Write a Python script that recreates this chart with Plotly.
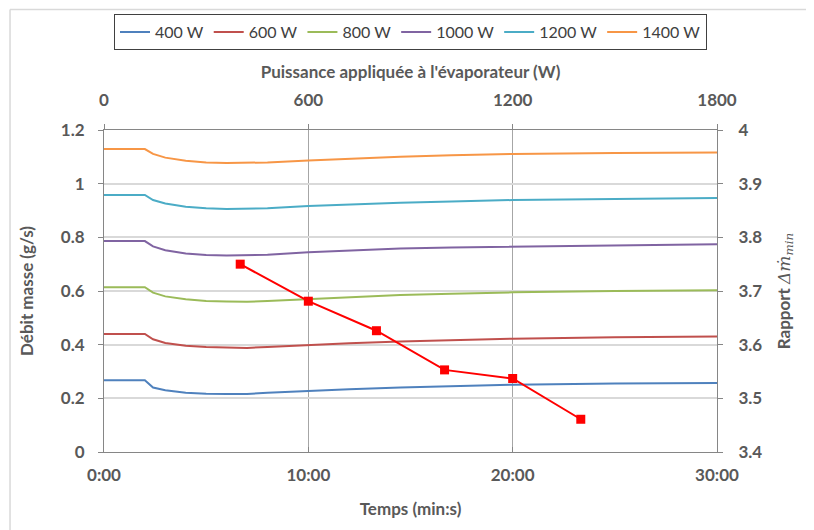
import plotly.graph_objects as go

# ---- data ----
time_min = [0, 2.0, 2.4, 3, 4, 5, 6, 7, 8, 10, 12, 14.5, 17, 20, 25, 30]
series_names = ["400 W", "600 W", "800 W", "1000 W", "1200 W", "1400 W"]
flow_400 = [0.267, 0.267, 0.240, 0.230, 0.221, 0.217, 0.216, 0.216, 0.221, 0.228, 0.234, 0.240, 0.245, 0.251, 0.255, 0.257]
flow_600 = [0.440, 0.440, 0.420, 0.406, 0.396, 0.391, 0.389, 0.388, 0.391, 0.399, 0.405, 0.412, 0.417, 0.422, 0.428, 0.430]
flow_800 = [0.614, 0.614, 0.594, 0.580, 0.569, 0.563, 0.561, 0.560, 0.563, 0.570, 0.577, 0.585, 0.590, 0.595, 0.600, 0.603]
flow_1000 = [0.786, 0.786, 0.766, 0.752, 0.740, 0.734, 0.732, 0.733, 0.735, 0.744, 0.751, 0.758, 0.762, 0.765, 0.770, 0.774]
flow_1200 = [0.958, 0.958, 0.939, 0.926, 0.914, 0.908, 0.906, 0.906, 0.908, 0.917, 0.923, 0.929, 0.934, 0.939, 0.943, 0.947]
flow_1400 = [1.129, 1.129, 1.111, 1.097, 1.085, 1.079, 1.077, 1.077, 1.079, 1.086, 1.093, 1.100, 1.106, 1.111, 1.114, 1.116]
flows = [flow_400, flow_600, flow_800, flow_1000, flow_1200, flow_1400]

power_W = [400, 600, 800, 1000, 1200, 1400]
ratio = [3.750, 3.681, 3.626, 3.553, 3.537, 3.461]

time_ticks = [0, 10, 20, 30]
time_ticklabels = ["0:00", "10:00", "20:00", "30:00"]
flow_ticks = [0, 0.2, 0.4, 0.6, 0.8, 1.0, 1.2]
flow_ticklabels = ["0", "0.2", "0.4", "0.6", "0.8", "1", "1.2"]
power_ticks = [0, 600, 1200, 1800]
ratio_ticks = [3.4, 3.5, 3.6, 3.7, 3.8, 3.9, 4.0]
ratio_ticklabels = ["3.4", "3.5", "3.6", "3.7", "3.8", "3.9", "4"]

colors = ["#4F81BD", "#C0504D", "#9BBB59", "#8064A2", "#4BACC6", "#F79646"]

FONT = "Lato"
TXT = "#595959"
AXC = "#868686"

fig = go.Figure()
for name, ys, c in zip(series_names, flows, colors):
    fig.add_trace(go.Scatter(x=time_min, y=ys, mode="lines", name=name,
                             line=dict(color=c, width=2), xaxis="x", yaxis="y"))

fig.add_trace(go.Scatter(x=power_W, y=ratio, mode="lines+markers", showlegend=False,
                         line=dict(color="#FF0000", width=2),
                         marker=dict(symbol="square", size=9, color="#FF0000"),
                         xaxis="x2", yaxis="y2"))

tickfont = dict(family=FONT, size=17, color=TXT, weight="bold")
titlefont = dict(family=FONT, size=17, color=TXT, weight="bold")

# the page body adds an 8 px offset, so the figure is 8 px smaller
fig.update_layout(
    width=806, height=522,
    margin=dict(l=96, r=97, t=122, b=78, autoexpand=False),
    paper_bgcolor="white", plot_bgcolor="white",
    showlegend=True,
    legend=dict(orientation="h", x=0.5, xanchor="center", y=1.36, yanchor="top",
                bordercolor="#404040", borderwidth=1,
                font=dict(family=FONT, size=16, color="#404040"),
                itemwidth=30, tracegroupgap=0),
    xaxis=dict(range=[0, 30], tickvals=time_ticks, ticktext=time_ticklabels,
               showgrid=True, gridcolor="#A6A6A6", gridwidth=1,
               showline=True, linecolor=AXC, linewidth=1,
               ticks="inside", ticklen=5, tickcolor=AXC,
               tickfont=tickfont, zeroline=False, ticklabelstandoff=8,
               title=dict(text="Temps (min:s)", font=titlefont, standoff=18)),
    yaxis=dict(range=[0, 1.2], tickvals=flow_ticks, ticktext=flow_ticklabels,
               showgrid=True, gridcolor="#D9D9D9", gridwidth=1.5,
               showline=True, linecolor=AXC, linewidth=1,
               ticks="outside", ticklen=5, tickcolor=AXC,
               tickfont=tickfont, zeroline=False, ticklabelstandoff=10,
               title=dict(text="Débit masse (g/s)", font=titlefont, standoff=22)),
    xaxis2=dict(range=[0, 1800], tickvals=power_ticks, overlaying="x", side="top",
                showgrid=False, showline=True, linecolor=AXC, linewidth=1,
                ticks="outside", ticklen=5, tickcolor=AXC,
                tickfont=tickfont, zeroline=False, ticklabelstandoff=11,
                title=dict(text="Puissance appliquée à l'évaporateur (W)", font=titlefont, standoff=6)),
    yaxis2=dict(range=[3.4, 4.0], tickvals=ratio_ticks, ticktext=ratio_ticklabels,
                overlaying="y", side="right",
                showgrid=False, showline=True, linecolor=AXC, linewidth=1,
                ticks="outside", ticklen=5, tickcolor=AXC,
                tickfont=tickfont, zeroline=False, ticklabelstandoff=12,
                title=dict(text="Rapport <span style='font-family:DejaVu Serif;font-weight:normal'><i>Δṁ<sub>min</sub></i></span>",
                           font=titlefont, standoff=16)),
)

# chart-area border (top and left edges visible in the reference)
fig.add_shape(type="line", xref="paper", yref="paper", x0=-0.1533, x1=1.2, y0=1.374, y1=1.374,
              line=dict(color="#D9D9D9", width=1.5))
fig.add_shape(type="line", xref="paper", yref="paper", x0=-0.1533, x1=-0.1533, y0=1.374, y1=-0.3,
              line=dict(color="#D9D9D9", width=1.5))

fig.write_html("out.html")
